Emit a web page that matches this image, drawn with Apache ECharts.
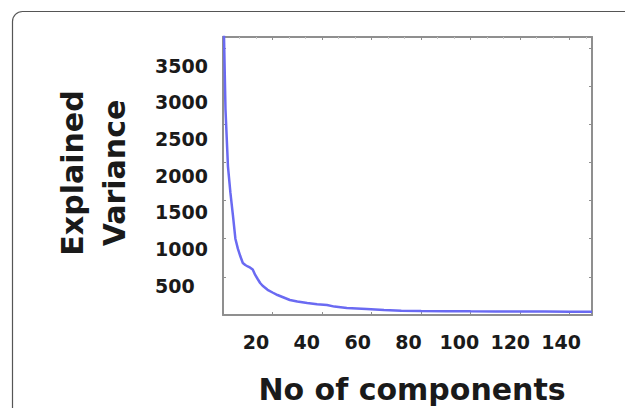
<!DOCTYPE html>
<html>
<head>
<meta charset="utf-8">
<script src="https://cdn.jsdelivr.net/npm/echarts@6/dist/echarts.min.js"></script>
<style>
  html, body { margin: 0; padding: 0; background: #fff; }
  #chart { width: 625px; height: 408px; }
</style>
</head>
<body>
<div id="chart"></div>
<script>
// values
const components = [0, 1, 2, 3, 4, 5, 6, 7, 8, 9, 10, 11, 12, 13, 14, 15, 16, 17, 18, 20,
  22, 25, 27, 30, 34, 38, 42, 45, 50, 58, 65, 72, 80, 90, 100, 110, 120, 130, 140, 149];
const variance = [4300, 2700, 1950, 1600, 1310, 1000, 870, 770, 682, 655, 636, 620, 596, 525, 472, 420, 383, 357, 330, 295,
  262, 223, 197, 177, 157, 142, 131, 110, 92, 80, 66, 56, 52, 50, 48, 47, 46, 45, 44, 44];
const xTicks = [20, 40, 60, 80, 100, 120, 140];
const yTicks = [500, 1000, 1500, 2000, 2500, 3000, 3500];

const frameColor = '#8f8f8f';
const font = 'DejaVu Sans';

let myChart = echarts.init(document.getElementById('chart'), null, { renderer: 'svg' });

let option = {
  backgroundColor: '#fff',
  animation: false,
  grid: [
    // plot frame
    { left: 223, right: 33, top: 37, bottom: 93 },
    // tick labels (they sit a bit off the frame ticks in the picture)
    { left: 205, right: 13, top: 29, bottom: 85.5 }
  ],
  xAxis: [
    {
      gridIndex: 0, type: 'value', min: 0, max: 149, interval: 20,
      axisLine: { onZero: false, lineStyle: { color: frameColor, width: 2 } },
      axisTick: { inside: true, length: 3, lineStyle: { color: frameColor } },
      axisLabel: { show: false },
      splitLine: { show: false }
    },
    {
      gridIndex: 0, type: 'value', position: 'top', min: 0, max: 149, interval: 20,
      axisLine: { onZero: false, lineStyle: { color: frameColor, width: 2 } },
      axisTick: { inside: true, length: 3, lineStyle: { color: frameColor } },
      minorTick: { show: true, splitNumber: 3, length: 2, lineStyle: { color: '#c8c8c8' } },
      axisLabel: { show: false },
      splitLine: { show: false }
    },
    {
      gridIndex: 1, type: 'value', min: 0, max: 160, interval: 20,
      axisLine: { show: false },
      axisTick: { show: false },
      splitLine: { show: false },
      axisLabel: {
        margin: 19, verticalAlign: 'middle',
        fontFamily: font, fontWeight: 'bold', fontSize: 19, color: '#1a1a1a',
        formatter: function (v) { return xTicks.indexOf(v) >= 0 ? String(v) : ''; }
      }
    }
  ],
  yAxis: [
    {
      gridIndex: 0, type: 'value', min: 0, max: 3645, interval: 500,
      axisLine: { onZero: false, lineStyle: { color: frameColor, width: 2 } },
      axisTick: { inside: true, length: 3, lineStyle: { color: frameColor } },
      axisLabel: { show: false },
      splitLine: { show: false }
    },
    {
      gridIndex: 0, type: 'value', position: 'right', min: 0, max: 3645, interval: 500,
      axisLine: { show: true, onZero: false, lineStyle: { color: frameColor, width: 2 } },
      axisTick: { inside: true, length: 3, lineStyle: { color: frameColor } },
      axisLabel: { show: false },
      splitLine: { show: false }
    },
    {
      gridIndex: 1, type: 'value', min: 0, max: 4000, interval: 500,
      axisLine: { show: false },
      axisTick: { show: false },
      splitLine: { show: false },
      axisLabel: {
        margin: 50, align: 'left',
        fontFamily: font, fontWeight: 'bold', fontSize: 19, color: '#1a1a1a',
        formatter: function (v) { return yTicks.indexOf(v) >= 0 ? String(v) : ''; }
      }
    }
  ],
  graphic: [
    {
      type: 'rect', silent: true, z: -1,
      shape: { x: 12.5, y: 11.5, width: 700, height: 500, r: 10 },
      style: { fill: 'none', stroke: '#555', lineWidth: 1.2 }
    },
    {
      type: 'text', x: 93, y: 173, rotation: Math.PI / 2,
      style: {
        text: 'Explained\nVariance',
        fontFamily: font, fontWeight: 'bold', fontSize: 30, lineHeight: 42,
        fill: '#1a1a1a', textAlign: 'center', textVerticalAlign: 'middle'
      }
    },
    {
      type: 'text', x: 412, y: 389,
      style: {
        text: 'No of components',
        fontFamily: font, fontWeight: 'bold', fontSize: 30,
        fill: '#1a1a1a', textAlign: 'center', textVerticalAlign: 'middle'
      }
    }
  ],
  series: [
    {
      type: 'line',
      xAxisIndex: 0, yAxisIndex: 0,
      data: components.map(function (c, i) { return [c, variance[i]]; }),
      showSymbol: false,
      clip: true,
      lineStyle: { color: '#6a6af2', width: 2.5 }
    }
  ]
};

myChart.setOption(option);
</script>
</body>
</html>
